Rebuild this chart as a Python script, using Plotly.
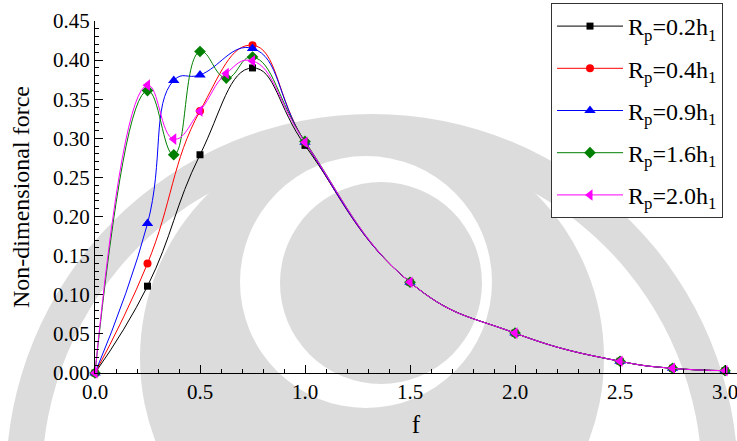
import plotly.graph_objects as go

# ---- data ----
f_a = [0, 0.25, 0.5, 0.75, 1.0, 1.5, 2.0, 2.5, 2.75, 3.0]
f_b = [0, 0.25, 0.375, 0.5, 0.75, 1.0, 1.5, 2.0, 2.5, 2.75, 3.0]
f_c = [0, 0.25, 0.375, 0.5, 0.625, 0.75, 1.0, 1.5, 2.0, 2.5, 2.75, 3.0]

y_02 = [0, 0.111, 0.279, 0.390, 0.291, 0.116, 0.051, 0.015, 0.006, 0.003]
y_04 = [0, 0.140, 0.335, 0.419, 0.295, 0.116, 0.051, 0.015, 0.006, 0.003]
y_09 = [0, 0.191, 0.374, 0.381, 0.415, 0.295, 0.116, 0.051, 0.015, 0.006, 0.003]
y_16 = [0, 0.361, 0.279, 0.411, 0.377, 0.404, 0.296, 0.116, 0.051, 0.015, 0.006, 0.003]
y_20 = [0, 0.368, 0.299, 0.335, 0.383, 0.399, 0.295, 0.116, 0.051, 0.015, 0.006, 0.003]

names = ["R<sub>p</sub>=0.2h<sub>1</sub>", "R<sub>p</sub>=0.4h<sub>1</sub>",
         "R<sub>p</sub>=0.9h<sub>1</sub>", "R<sub>p</sub>=1.6h<sub>1</sub>",
         "R<sub>p</sub>=2.0h<sub>1</sub>"]

series = [
    (f_a, y_02, "black", "square", 7),
    (f_a, y_04, "red", "circle", 8),
    (f_b, y_09, "blue", "triangle-up", 10),
    (f_c, y_16, "green", "diamond", 9),
    (f_c, y_20, "magenta", "triangle-left", 10),
]

FONT = "Liberation Serif, Times New Roman, serif"

# ---- faint background watermark (pixel centre x, centre y, radius, colour) ----
W, H = 737, 441
ML, MR, MT, MB = 95, 0, 21, 68
watermark = [
    (372, 480, 366, "#dcdcdc"),
    (372, 480, 330, "white"),
    (372, 358, 232, "#dcdcdc"),
    (366, 282, 126, "white"),
    (381, 283, 101, "#dcdcdc"),
]
pw, ph = W - ML - MR, H - MT - MB


def px2paper_x(v):
    return (v - ML) / pw


def px2paper_y(v):
    return (H - MB - v) / ph


shapes = []
for cx, cy, r, col in watermark:
    shapes.append(dict(
        type="circle", xref="paper", yref="paper", layer="below",
        x0=px2paper_x(cx - r), x1=px2paper_x(cx + r),
        y0=px2paper_y(cy + r), y1=px2paper_y(cy - r),
        fillcolor=col, line=dict(width=0),
    ))

fig = go.Figure()
for i, (xs, ys, col, sym, sz) in enumerate(series):
    fig.add_trace(go.Scatter(
        x=xs, y=ys, name=names[i], mode="lines+markers",
        line=dict(color=col, width=1, shape="spline", smoothing=1.3),
        marker=dict(color=col, symbol=sym, size=sz),
        cliponaxis=False, legendgroup=str(i),
    ))

fig.update_layout(
    width=W, height=H,
    margin=dict(l=ML, r=MR, t=MT, b=MB),
    paper_bgcolor="white", plot_bgcolor="rgba(0,0,0,0)",
    font=dict(family=FONT, color="black", size=21),
    shapes=shapes,
    showlegend=True,
    legend=dict(
        x=px2paper_x(723), y=px2paper_y(3), xanchor="right", yanchor="top",
        bgcolor="white", bordercolor="#333", borderwidth=1,
        font=dict(family=FONT, size=24, color="black"),
        tracegroupgap=8, itemwidth=66, maxheight=430,
    ),
    xaxis=dict(
        range=[0, 3.057], showgrid=False, zeroline=False,
        showline=True, linecolor="black", linewidth=1,
        ticks="inside", ticklen=8, tickcolor="black", dtick=0.5, tick0=0,
        tickformat=".1f", tickfont=dict(family=FONT, size=21),
        ticklabeloverflow="allow",
        minor=dict(ticks="inside", ticklen=4, dtick=0.1, tickcolor="black"),
        title=dict(text="f", font=dict(family=FONT, size=25), standoff=12),
    ),
    yaxis=dict(
        range=[0, 0.45], showgrid=False, zeroline=False,
        showline=True, linecolor="black", linewidth=1,
        ticks="inside", ticklen=8, tickcolor="black", dtick=0.05, tick0=0,
        tickformat=".2f", tickfont=dict(family=FONT, size=21),
        minor=dict(ticks="inside", ticklen=4, dtick=0.01, tickcolor="black"),
        title=dict(text="Non-dimensional force", font=dict(family=FONT, size=24), standoff=16),
    ),
)

fig.write_html("out.html")
